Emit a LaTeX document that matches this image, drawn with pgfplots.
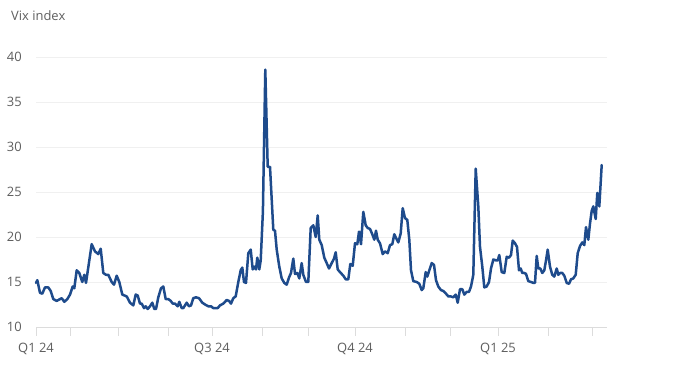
\documentclass[border=0pt]{standalone}
\usepackage{pgfplots}
\pgfplotsset{compat=1.18}
\usepackage{fontspec}
\setmainfont{Open Sans}
\definecolor{vixblue}{RGB}{30,75,140}
\definecolor{labgray}{RGB}{95,95,95}
\definecolor{gridgray}{RGB}{240,240,240}
\definecolor{axgray}{RGB}{220,220,220}
\pgfplotstableread{
x y
36 14.9
37.3 15.2
40 13.8
42.3 13.7
45 14.4
48.3 14.4
50.7 14.0
53.3 13.1
56.7 12.9
60 13.1
61.7 13.2
64.3 12.8
67.3 13.1
70 13.6
72.7 14.5
74.3 14.3
76.7 16.3
79.3 16.0
82.3 15.0
84.3 15.8
86 14.9
91.7 19.2
95 18.4
98.3 18.1
100.7 18.7
103.3 16.0
106 15.8
108.3 15.8
111.7 15.0
114 14.7
116.7 15.7
119.3 15.0
122.3 13.6
126.7 13.4
130 12.7
133.3 12.4
135.7 13.6
137.7 13.5
140 12.6
141.7 12.6
144 12.1
145.7 12.3
147.7 12.0
150 12.3
152.3 12.7
154.3 12.0
156 12.0
158.3 13.3
161 14.3
163.3 14.5
165.7 13.1
168.3 13.1
170.7 12.9
172.7 12.6
175 12.6
177.7 12.3
179.3 12.8
181.7 12.1
183.3 12.1
186.7 12.7
189 12.3
191 12.4
193.3 13.2
196 13.3
199 13.2
202.3 12.7
205 12.5
208.3 12.3
211 12.3
213.3 12.1
217.7 12.1
220 12.4
223.3 12.6
226.7 13.0
229 12.9
231 12.6
233.3 13.2
235.7 13.4
238.3 15.0
240.7 16.3
242.3 16.6
244 15.0
246 14.9
248.3 18.2
250.7 18.6
252.7 16.4
254.3 16.7
256 16.4
257.3 17.7
259.3 16.4
260.7 17.4
262.9 22.8
265.3 38.6
267.7 27.8
270 27.8
273.3 20.8
275 20.7
276.7 18.6
279.3 16.7
281.7 15.4
284.3 14.9
286.7 14.7
289 15.5
291 16.0
293.3 17.6
295 15.9
297.3 16.0
299.3 15.4
301.7 17.1
303.3 15.8
306 15.0
308.3 15.0
310.7 21.0
313.3 21.3
315.7 20.0
317.7 22.4
319.3 19.7
321.7 19.1
324.3 17.7
326.7 17.1
329 16.5
331.7 17.1
334 17.6
335.7 18.3
337.7 16.4
340 16.1
343.3 15.7
345.7 15.3
348.3 15.3
350.3 17.0
352.7 16.8
355 19.3
357.3 19.2
359 20.6
361 19.2
363.3 22.8
365.7 21.3
367.7 21.0
370 20.9
372.3 20.3
374.3 19.7
376 20.7
377.7 19.7
380 19.3
382.7 18.1
385 18.4
387.7 18.2
390 19.1
392.3 19.2
394.3 20.3
396 19.9
398.3 19.4
400.7 20.4
402.7 23.2
405 22.1
407.3 21.9
409.3 19.7
411 16.3
413.3 15.1
416.7 15.0
419.3 14.8
421.7 14.1
423.3 14.3
425.7 16.1
427.3 15.6
429.3 16.3
431.7 17.1
434 16.9
436 15.2
438.3 14.5
441 14.1
443.3 14.0
446 13.7
448.3 13.4
450.7 13.4
453.3 13.3
455.7 13.6
457.7 12.7
460 14.2
462.3 14.2
464.3 13.6
466.7 13.9
469 13.9
471 14.5
473.3 15.8
475.7 27.6
478.3 23.4
480 18.9
482.3 16.7
484.3 14.4
486.7 14.5
489 15.0
491 16.5
493.3 17.5
496 17.4
497.7 17.4
499.3 18.0
501.7 16.1
504.3 16.0
506.7 17.8
509 17.7
511 18.0
512.7 19.6
515 19.3
517 18.9
519 16.3
520.7 16.5
522.3 16.0
524.3 16.0
526 15.9
528.3 15.1
531 15.0
533.3 14.9
535 14.9
536.7 17.9
538.3 16.5
540.3 16.5
542.3 16.0
544.3 16.3
546 17.4
547.7 18.6
550 16.7
552.3 15.8
554.3 15.6
556.7 16.5
558.3 15.8
560 16.0
562.3 16.0
564.3 15.7
566.7 14.9
569 14.8
571 15.3
573.3 15.4
575.7 15.8
577.7 18.2
580 19.0
582.3 19.4
584.3 19.1
586 21.1
588.3 19.7
590 21.5
591.7 22.9
593.3 23.4
595.7 22.0
597.3 24.9
599.3 23.4
601.7 28.0
}\vixdata
\begin{document}
\begin{tikzpicture}
\useasboundingbox (0,0) rectangle (700bp,369bp);
\fill[white] (0,0) rectangle (700bp,369bp);
\node[anchor=west, inner sep=0pt, text=labgray, font=\fontsize{13}{15}\selectfont] at (11bp,353bp) {Vix index};
\begin{axis}[
  at={(36bp,42bp)}, anchor=south west,
  scale only axis, width=571bp, height=270bp,
  xmin=36, xmax=607, ymin=10, ymax=40,
  axis x line*=bottom, axis y line*=left,
  x axis line style={draw=axgray, line width=0.8pt, -},
  y axis line style={draw=none},
  xtick={36,70,118,168,212,262,308,355,405,450,498,548,592},
  xticklabels={Q1 24,,,,Q3 24,,,Q4 24,,,Q1 25,,},
  ytick={10,15,20,25,30,35,40},
  /pgf/number format/assume math mode=true,
  tick align=outside,
  xtick style={draw=axgray, line width=0.8pt},
  major tick length=9bp,
  ytick style={draw=none},
  ymajorgrids, major grid style={draw=gridgray, line width=0.8pt},
  ticklabel style={text=labgray, font=\fontsize{13}{15}\selectfont},
  y tick label style={anchor=east, inner sep=0pt, xshift=-5bp},
  x tick label style={anchor=north, inner sep=0pt, yshift=-7bp},
  clip=false,
]
\addplot[vixblue, line width=2.5bp, line join=round, line cap=round] table[x=x,y=y] {\vixdata};
\end{axis}
\end{tikzpicture}
\end{document}
